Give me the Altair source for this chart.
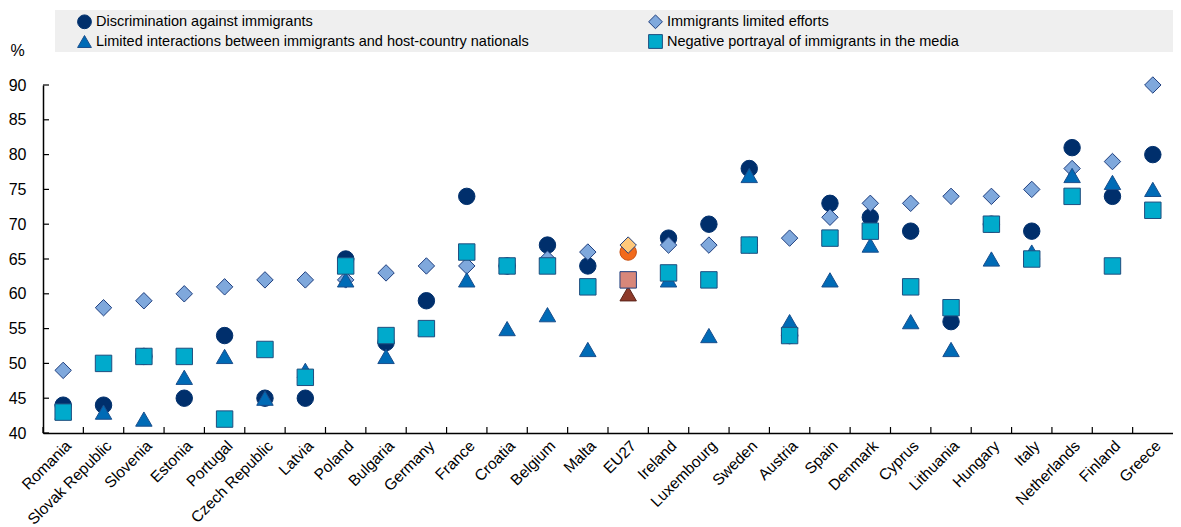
import altair as alt
import pandas as pd

countries = ["Romania", "Slovak Republic", "Slovenia", "Estonia", "Portugal", "Czech Republic",
             "Latvia", "Poland", "Bulgaria", "Germany", "France", "Croatia", "Belgium", "Malta",
             "EU27", "Ireland", "Luxembourg", "Sweden", "Austria", "Spain", "Denmark", "Cyprus",
             "Lithuania", "Hungary", "Italy", "Netherlands", "Finland", "Greece"]

discrimination = [44, 44, 51, 45, 54, 45, 45, 65, 53, 59, 74, 64, 67, 64, 66, 68, 70, 78, 54, 73, 71, 69, 56, 70, 69, 81, 74, 80]
efforts = [49, 58, 59, 60, 61, 62, 62, 62, 63, 64, 64, 64, 65, 66, 67, 67, 67, 67, 68, 71, 73, 73, 74, 74, 75, 78, 79, 90]
interactions = [43, 43, 42, 48, 51, 45, 49, 62, 51, 55, 62, 55, 57, 52, 60, 62, 54, 77, 56, 62, 67, 56, 52, 65, 66, 77, 76, 75]
media = [43, 50, 51, 51, 42, 52, 48, 64, 54, 55, 66, 64, 64, 61, 62, 63, 62, 67, 54, 68, 69, 61, 58, 70, 65, 74, 64, 72]

series_names = ["Discrimination against immigrants",
                "Immigrants limited efforts",
                "Limited interactions between immigrants and host-country nationals",
                "Negative portrayal of immigrants in the media"]
series_values = [discrimination, efforts, interactions, media]
y_ticks = [40, 45, 50, 55, 60, 65, 70, 75, 80, 85, 90]
highlight = "EU27"

FONT = "Liberation Sans, Arial"
W, H = 1130, 348

rows = []
order = 0
for name, vals in zip(series_names, series_values):
    for c, v in zip(countries, vals):
        key = name if c != highlight else name + " (EU27)"
        rows.append({"country": c, "value": v, "key": key, "order": order})
        order += 1
df = pd.DataFrame(rows)

keys = series_names + [n + " (EU27)" for n in series_names]
shapes = ["circle", "diamond", "triangle-up", "square"] * 2
fills = ["#002F6C", "#7FA8DC", "#006BB6", "#00AACC",
         "#F26A1C", "#FFC87A", "#8E3A2A", "#D8877A"]
strokes = ["#002F6C", "#1F3F7F", "#1A4E8C", "#1F4E7F",
           "#C84F10", "#1F3F7F", "#5A2218", "#1F3F7F"]
legend_order = [series_names[0], series_names[2], series_names[1], series_names[3]]

xscale = alt.Scale(type="band", paddingInner=0, paddingOuter=0)
xaxis = alt.Axis(title=None, labelAngle=-45, labelFont=FONT, labelFontSize=15.5,
                 labelColor="black", tickBand="extent", tickSize=0, labelPadding=5,
                 labelOverlap=False,
                 grid=True, gridColor="white", gridWidth=1.5,
                 domainColor="black", domainWidth=1.5)
yscale = alt.Scale(domain=[40, 90], nice=False, zero=False)
yaxis = alt.Axis(values=y_ticks, title="%", titleAngle=0, titleAlign="left",
                 titleBaseline="middle", titleX=-33, titleY=-35, titleFont=FONT,
                 titleFontSize=16, titleFontWeight="normal", titleColor="black",
                 labelFont=FONT, labelFontSize=16, labelColor="black",
                 labelOverlap=False,
                 tickSize=0, labelPadding=17, grid=True, gridColor="white", gridWidth=1.5,
                 domainColor="black", domainWidth=1.5)

points = alt.Chart(df).mark_point(filled=True, size=270, strokeWidth=1, opacity=1).encode(
    x=alt.X("country:N", sort=countries, scale=xscale, axis=xaxis),
    y=alt.Y("value:Q", scale=yscale, axis=yaxis),
    color=alt.Color("key:N", scale=alt.Scale(domain=keys, range=fills),
                    legend=alt.Legend(values=legend_order, title=None, orient="none",
                                      legendX=34, legendY=-71, columns=2, columnPadding=117,
                                      rowPadding=1, labelFont=FONT, labelFontSize=14.5,
                                      labelColor="black", symbolSize=190, symbolStrokeWidth=1,
                                      labelLimit=800)),
    shape=alt.Shape("key:N", scale=alt.Scale(domain=keys, range=shapes)),
    stroke=alt.Stroke("key:N", scale=alt.Scale(domain=keys, range=strokes)),
    order=alt.Order("order:Q"),
)

tick_df = pd.DataFrame({"country": countries})
xticks = alt.Chart(tick_df).mark_rule(color="black", strokeWidth=1.2).encode(
    x=alt.X("country:N", sort=countries, bandPosition=0, scale=xscale, axis=xaxis),
    y=alt.value(H - 6), y2=alt.value(H))

ytick_df = pd.DataFrame({"value": y_ticks})
yticks_m = alt.Chart(ytick_df).mark_rule(color="black", strokeWidth=1.2).encode(
    y=alt.Y("value:Q", scale=yscale, axis=yaxis), x=alt.value(0), x2=alt.value(6))

band = alt.Chart(pd.DataFrame({"a": [0]})).mark_rect(color="#EFEFEF").encode(
    x=alt.value(12), x2=alt.value(W), y=alt.value(-75), y2=alt.value(-33))

chart = alt.layer(band, points, xticks, yticks_m).properties(
    width=W, height=H,
    autosize=alt.AutoSizeParams(type="none"),
    padding={"left": 35, "top": 77, "right": 0, "bottom": 94},
).configure_view(fill="#F0F0F0", stroke=None).configure(background="white")

chart.save("out.html", embed_options={"renderer": "svg", "actions": False})
